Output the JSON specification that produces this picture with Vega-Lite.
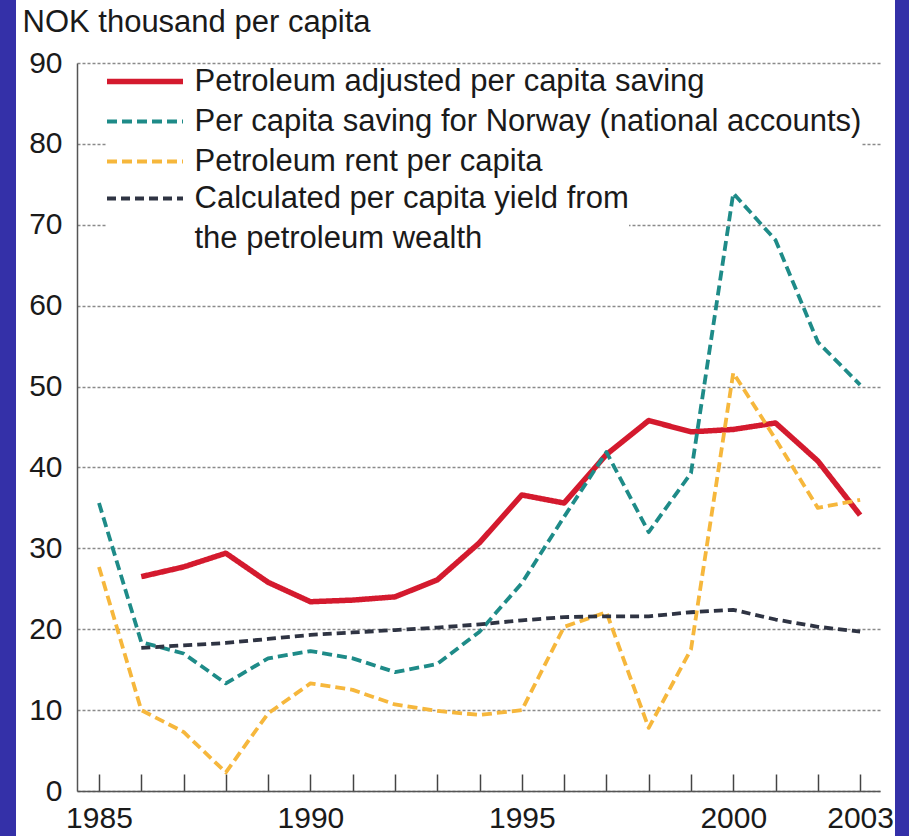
{
  "$schema": "https://vega.github.io/schema/vega-lite/v6.json",
  "width": 879,
  "height": 836,
  "autosize": {"type": "none"},
  "padding": {"left": 16, "top": 0, "right": 14, "bottom": 0},
  "background": "#3430a8",
  "config": {
    "view": {"stroke": null, "fill": "white"},
    "font": "Liberation Sans",
    "style": {"guide-label": {"lineHeight": 40}}
  },
  "data": {
    "values": [
      {"year": 1985, "Per capita saving for Norway (national accounts)": 35.6, "Petroleum rent per capita": 27.7},
      {"year": 1986, "Petroleum adjusted per capita saving": 26.5, "Per capita saving for Norway (national accounts)": 18.4, "Petroleum rent per capita": 10.0, "Calculated per capita yield from the petroleum wealth": 17.7},
      {"year": 1987, "Petroleum adjusted per capita saving": 27.7, "Per capita saving for Norway (national accounts)": 17.0, "Petroleum rent per capita": 7.3, "Calculated per capita yield from the petroleum wealth": 18.0},
      {"year": 1988, "Petroleum adjusted per capita saving": 29.4, "Per capita saving for Norway (national accounts)": 13.3, "Petroleum rent per capita": 2.3, "Calculated per capita yield from the petroleum wealth": 18.3},
      {"year": 1989, "Petroleum adjusted per capita saving": 25.8, "Per capita saving for Norway (national accounts)": 16.4, "Petroleum rent per capita": 9.6, "Calculated per capita yield from the petroleum wealth": 18.8},
      {"year": 1990, "Petroleum adjusted per capita saving": 23.4, "Per capita saving for Norway (national accounts)": 17.3, "Petroleum rent per capita": 13.3, "Calculated per capita yield from the petroleum wealth": 19.3},
      {"year": 1991, "Petroleum adjusted per capita saving": 23.6, "Per capita saving for Norway (national accounts)": 16.4, "Petroleum rent per capita": 12.5, "Calculated per capita yield from the petroleum wealth": 19.6},
      {"year": 1992, "Petroleum adjusted per capita saving": 24.0, "Per capita saving for Norway (national accounts)": 14.7, "Petroleum rent per capita": 10.7, "Calculated per capita yield from the petroleum wealth": 19.9},
      {"year": 1993, "Petroleum adjusted per capita saving": 26.1, "Per capita saving for Norway (national accounts)": 15.7, "Petroleum rent per capita": 9.9, "Calculated per capita yield from the petroleum wealth": 20.2},
      {"year": 1994, "Petroleum adjusted per capita saving": 30.7, "Per capita saving for Norway (national accounts)": 19.7, "Petroleum rent per capita": 9.4, "Calculated per capita yield from the petroleum wealth": 20.6},
      {"year": 1995, "Petroleum adjusted per capita saving": 36.6, "Per capita saving for Norway (national accounts)": 25.7, "Petroleum rent per capita": 10.0, "Calculated per capita yield from the petroleum wealth": 21.1},
      {"year": 1996, "Petroleum adjusted per capita saving": 35.6, "Per capita saving for Norway (national accounts)": 33.9, "Petroleum rent per capita": 20.3, "Calculated per capita yield from the petroleum wealth": 21.5},
      {"year": 1997, "Petroleum adjusted per capita saving": 41.6, "Per capita saving for Norway (national accounts)": 41.9, "Petroleum rent per capita": 22.1, "Calculated per capita yield from the petroleum wealth": 21.6},
      {"year": 1998, "Petroleum adjusted per capita saving": 45.8, "Per capita saving for Norway (national accounts)": 32.0, "Petroleum rent per capita": 7.8, "Calculated per capita yield from the petroleum wealth": 21.6},
      {"year": 1999, "Petroleum adjusted per capita saving": 44.4, "Per capita saving for Norway (national accounts)": 39.3, "Petroleum rent per capita": 17.5, "Calculated per capita yield from the petroleum wealth": 22.1},
      {"year": 2000, "Petroleum adjusted per capita saving": 44.7, "Per capita saving for Norway (national accounts)": 73.9, "Petroleum rent per capita": 51.7, "Calculated per capita yield from the petroleum wealth": 22.4},
      {"year": 2001, "Petroleum adjusted per capita saving": 45.5, "Per capita saving for Norway (national accounts)": 68.1, "Petroleum rent per capita": 43.5, "Calculated per capita yield from the petroleum wealth": 21.2},
      {"year": 2002, "Petroleum adjusted per capita saving": 40.8, "Per capita saving for Norway (national accounts)": 55.5, "Petroleum rent per capita": 35.0, "Calculated per capita yield from the petroleum wealth": 20.3},
      {"year": 2003, "Petroleum adjusted per capita saving": 34.1, "Per capita saving for Norway (national accounts)": 50.2, "Petroleum rent per capita": 36.0, "Calculated per capita yield from the petroleum wealth": 19.7}
    ]
  },
  "transform": [
    {"fold": ["Petroleum adjusted per capita saving", "Per capita saving for Norway (national accounts)", "Petroleum rent per capita", "Calculated per capita yield from the petroleum wealth"], "as": ["series", "value"]}
  ],
  "mark": {"type": "line", "strokeJoin": "round"},
  "encoding": {
    "x": {
      "field": "year", "type": "quantitative",
      "scale": {"domain": [1984.48, 2003.47], "range": [61, 864], "nice": false, "zero": false},
      "axis": {
        "title": null, "offset": -45, "grid": false,
        "values": [1985,1986,1987,1988,1989,1990,1991,1992,1993,1994,1995,1996,1997,1998,1999,2000,2001,2002,2003],
        "labelExpr": "indexof([1985,1990,1995,2000,2003], datum.value) >= 0 ? '' + datum.value : ''",
        "tickSize": -17, "tickColor": "#444", "tickWidth": 1.5,
        "domainColor": "#555", "domainWidth": 1.5,
        "labelFontSize": 30, "labelColor": "#1a1a1a", "labelPadding": 29,
        "labelFlush": false, "labelOverlap": false, "labelBaseline": "top"
      }
    },
    "y": {
      "field": "value", "type": "quantitative",
      "scale": {"domain": [0, 90], "range": [791, 63], "nice": false, "zero": true},
      "axis": {
        "offset": -61,
        "values": [0,10,20,30,40,50,60,70,80,90],
        "format": "d",
        "ticks": false,
        "grid": true, "gridDash": [3, 2], "gridColor": "#8a8a8a", "gridWidth": 1.5,
        "domainColor": "#555", "domainWidth": 1.5,
        "labelFontSize": 30, "labelColor": "#1a1a1a", "labelPadding": 15,
        "title": "NOK thousand per capita", "titleAngle": 0, "titleAlign": "left", "titleBaseline": "alphabetic",
        "titleX": -55, "titleY": 31, "titleFontSize": 31, "titleFontWeight": "normal", "titleColor": "#1a1a1a"
      }
    },
    "color": {
      "field": "series", "type": "nominal",
      "scale": {
        "domain": ["Petroleum adjusted per capita saving", "Per capita saving for Norway (national accounts)", "Petroleum rent per capita", "Calculated per capita yield from the petroleum wealth"],
        "range": ["#d41a2e", "#1e8b88", "#f6b73c", "#2f3443"]
      },
      "legend": {
        "orient": "none", "legendX": 91, "legendY": 66, "title": null,
        "values": ["Petroleum adjusted per capita saving", "Per capita saving for Norway (national accounts)", "Petroleum rent per capita"],
        "symbolType": "M-4,0H4", "symbolSize": 361, "symbolOffset": 22.5, "labelOffset": 34,
        "labelFontSize": 31, "labelColor": "#1a1a1a", "labelLimit": 900, "labelBaseline": "middle",
        "rowPadding": 8, "padding": 0, "fillColor": "white"
      }
    },
    "strokeDash": {
      "field": "series", "type": "nominal",
      "scale": {
        "domain": ["Petroleum adjusted per capita saving", "Per capita saving for Norway (national accounts)", "Petroleum rent per capita", "Calculated per capita yield from the petroleum wealth"],
        "range": [[1, 0], [10, 5], [10, 5], [9, 5]]
      },
      "legend": {
        "orient": "none", "legendX": 91, "legendY": 66, "title": null,
        "values": ["Petroleum adjusted per capita saving", "Per capita saving for Norway (national accounts)", "Petroleum rent per capita"],
        "symbolType": "M-4,0H4", "symbolSize": 361, "symbolOffset": 22.5, "labelOffset": 34,
        "labelFontSize": 31, "labelColor": "#1a1a1a", "labelLimit": 900, "labelBaseline": "middle",
        "rowPadding": 8, "padding": 0, "fillColor": "white"
      }
    },
    "strokeWidth": {
      "field": "series", "type": "nominal",
      "scale": {
        "type": "ordinal",
        "domain": ["Petroleum adjusted per capita saving", "Per capita saving for Norway (national accounts)", "Petroleum rent per capita", "Calculated per capita yield from the petroleum wealth"],
        "range": [5.5, 3.8, 3.8, 3.8]
      },
      "legend": {
        "orient": "none", "legendX": 91, "legendY": 66, "title": null,
        "values": ["Petroleum adjusted per capita saving", "Per capita saving for Norway (national accounts)", "Petroleum rent per capita"],
        "symbolType": "M-4,0H4", "symbolSize": 361, "symbolOffset": 22.5, "labelOffset": 34,
        "labelFontSize": 31, "labelColor": "#1a1a1a", "labelLimit": 900, "labelBaseline": "middle",
        "rowPadding": 8, "padding": 0, "fillColor": "white"
      }
    },
    "opacity": {
      "field": "series", "type": "nominal",
      "scale": {
        "type": "ordinal",
        "domain": ["Calculated per capita yield from the petroleum wealth", "Petroleum rent per capita", "Per capita saving for Norway (national accounts)", "Petroleum adjusted per capita saving"],
        "range": [1, 1, 1, 1]
      },
      "legend": {
        "orient": "none", "legendX": 91, "legendY": 183, "title": null,
        "values": ["Calculated per capita yield from the petroleum wealth"],
        "labelExpr": "['Calculated per capita yield from', 'the petroleum wealth']",
        "symbolType": "M-4,0H4", "symbolSize": 361, "symbolOffset": 22.5, "labelOffset": 34,
        "symbolStrokeColor": "#2f3443", "symbolDash": [9, 5], "symbolStrokeWidth": 3.8,
        "labelFontSize": 31, "labelColor": "#1a1a1a", "labelLimit": 900, "labelBaseline": "middle",
        "padding": 0, "fillColor": "white"
      }
    }
  }
}
